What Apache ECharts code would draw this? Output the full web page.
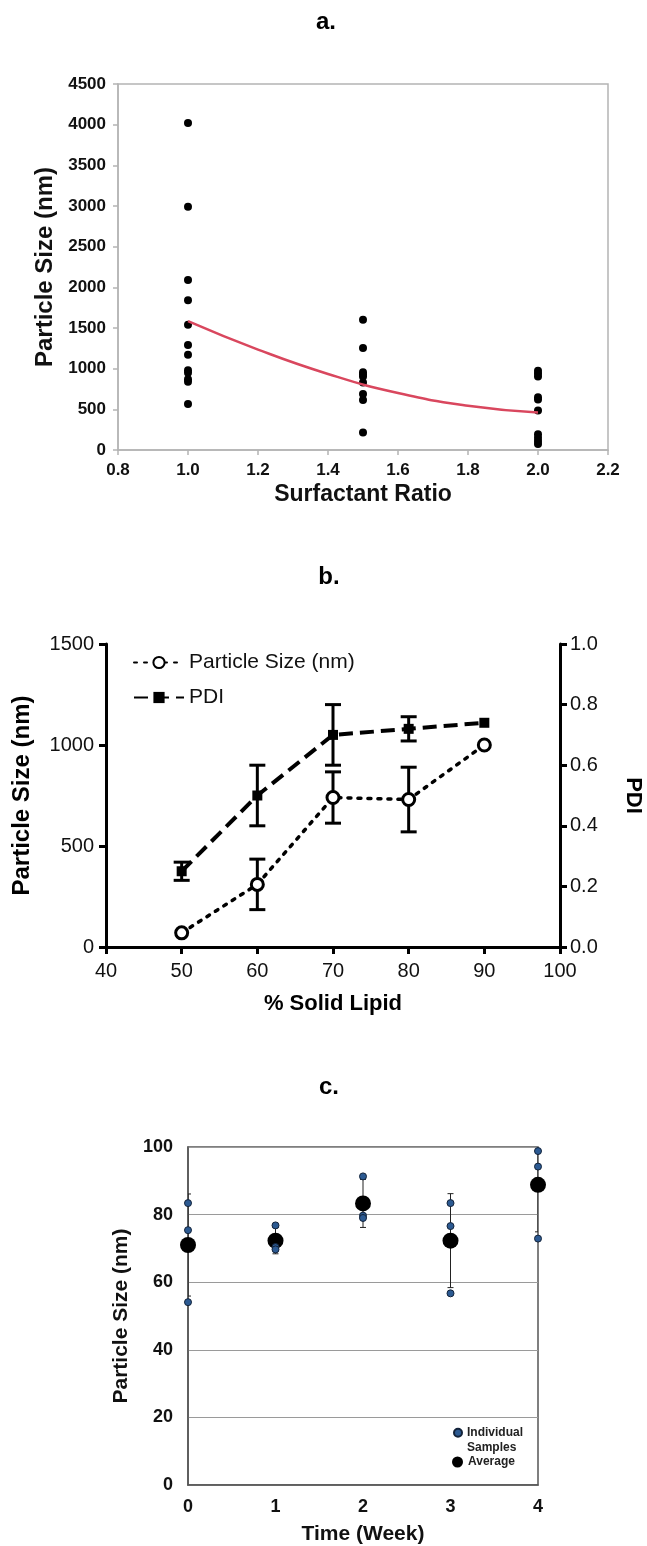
<!DOCTYPE html>
<html>
<head>
<meta charset="utf-8">
<script src="https://cdn.jsdelivr.net/npm/echarts@6/dist/echarts.min.js"></script>
<style>
html,body{margin:0;padding:0;background:#fff;}
#chart{width:647px;height:1546px;}
</style>
</head>
<body>
<div id="chart"></div>
<script>
// ---------- Panel a data ----------
const aRatio10 = 1.0, aRatio15 = 1.5, aRatio20 = 2.0;
const aSize10 = [4020, 2990, 2090, 1840, 1540, 1290, 1170, 980, 950, 870, 840, 565];
const aSize15 = [1600, 1255, 955, 930, 905, 830, 690, 615, 215];
const aSize20 = [975, 940, 905, 650, 620, 485, 195, 150, 110, 75];
const aFitX = [1.0, 1.2, 1.4, 1.6, 1.8, 2.0];
const aFitY = [1585, 1235, 935, 700, 545, 460];
const aXTicks = [0.8, 2.2, 0.2];

// ---------- Panel b data ----------
const bLipid = [50, 60, 70, 80, 90];
const bSize = [70, 310, 740, 730, 1000];
const bSizeSd = [0, 125, 127, 160, 0];
const bPdi = [0.25, 0.50, 0.70, 0.72, 0.74];
const bPdiSd = [0.03, 0.10, 0.10, 0.04, 0];

// ---------- Panel c data ----------
const cWeeks = [0, 1, 2, 3, 4];
const cSamples = [[83.4, 75.4, 54.1], [76.8, 70.4, 69.7], [91.3, 79.7, 79.0], [83.4, 76.6, 56.7], [98.8, 94.2, 72.9]];
const cAvg = [71.0, 72.3, 83.3, 72.3, 88.8];
const cSd = [15.1, 3.9, 7.1, 13.9, 13.9];

const FONT = 'Liberation Sans, Arial, sans-serif';
const plain = v => String(v);

function errRender(capHalf, lw, color) {
  return function (params, api) {
    const x = api.value(0), lo = api.value(1), hi = api.value(2);
    const p1 = api.coord([x, lo]), p2 = api.coord([x, hi]);
    const st = { stroke: color, lineWidth: lw };
    return {
      type: 'group',
      children: [
        { type: 'line', shape: { x1: p1[0], y1: p1[1], x2: p2[0], y2: p2[1] }, style: st },
        { type: 'line', shape: { x1: p1[0] - capHalf, y1: p1[1], x2: p1[0] + capHalf, y2: p1[1] }, style: st },
        { type: 'line', shape: { x1: p2[0] - capHalf, y1: p2[1], x2: p2[0] + capHalf, y2: p2[1] }, style: st }
      ]
    };
  };
}
function errData(xs, ys, sds) {
  const out = [];
  xs.forEach((x, i) => { if (sds[i] > 0) out.push([x, ys[i] - sds[i], ys[i] + sds[i]]); });
  return out;
}

const chart = echarts.init(document.getElementById('chart'), null, { renderer: 'canvas' });

const titleStyle = { fontFamily: FONT, fontWeight: 'bold', fontSize: 24, color: '#000' };

const option = {
  backgroundColor: '#fff',
  animation: false,
  title: [
    { text: 'a.', left: 326, top: 22, textAlign: 'center', textVerticalAlign: 'middle', textStyle: titleStyle, padding: 0 },
    { text: 'b.', left: 329, top: 577, textAlign: 'center', textVerticalAlign: 'middle', textStyle: titleStyle, padding: 0 },
    { text: 'c.', left: 329, top: 1087, textAlign: 'center', textVerticalAlign: 'middle', textStyle: titleStyle, padding: 0 }
  ],
  grid: [
    { left: 118, right: 39, top: 84, height: 366, show: true, borderColor: '#b4b4b4', borderWidth: 1.5, backgroundColor: 'transparent', outerBoundsMode: 'none', containLabel: false },
    { left: 106, right: 87, top: 644, height: 303, outerBoundsMode: 'none', containLabel: false },
    { left: 188, right: 109, top: 1147, height: 338, show: true, borderColor: '#555', borderWidth: 1.5, outerBoundsMode: 'none', containLabel: false }
  ],
  legend: [
    {
      data: ['Particle Size (nm)', 'PDI'],
      orient: 'vertical', left: 128, top: 647, itemWidth: 50, itemHeight: 14, itemGap: 14,
      textStyle: { fontFamily: FONT, fontSize: 21, color: '#111' }
    },
    {
      data: ['Individual Samples'],
      orient: 'vertical', left: 453, top: 1411, itemWidth: 8, itemHeight: 8, padding: 0,
      formatter: function (n) { return ' \nIndividual\nSamples'; },
      textStyle: { fontFamily: FONT, fontSize: 12, fontWeight: 'bold', color: '#222', lineHeight: 14.5 }
    },
    {
      data: ['Average'],
      orient: 'vertical', left: 452, top: 1456, itemWidth: 11, itemHeight: 11, padding: 0,
      textStyle: { fontFamily: FONT, fontSize: 12, fontWeight: 'bold', color: '#222' }
    }
  ],
  xAxis: [
    {
      gridIndex: 0, type: 'value', min: aXTicks[0], max: aXTicks[1], interval: aXTicks[2],
      name: 'Surfactant Ratio', nameLocation: 'middle', nameGap: 33,
      nameTextStyle: { fontFamily: FONT, fontWeight: 'bold', fontSize: 23, color: '#111' },
      axisLine: { lineStyle: { color: '#b4b4b4', width: 1.5 } },
      axisTick: { show: true, inside: false, length: 5, lineStyle: { color: '#b4b4b4', width: 1.5 } },
      axisLabel: { margin: 12, fontFamily: FONT, fontWeight: 'bold', fontSize: 17, color: '#111', formatter: v => v.toFixed(1) },
      splitLine: { show: false }
    },
    {
      gridIndex: 1, type: 'value', min: 40, max: 100, interval: 10,
      name: '% Solid Lipid', nameLocation: 'middle', nameGap: 46,
      nameTextStyle: { fontFamily: FONT, fontWeight: 'bold', fontSize: 22, color: '#000' },
      axisLine: { lineStyle: { color: '#000', width: 3 } },
      axisTick: { show: true, length: 7, lineStyle: { color: '#000', width: 3 } },
      axisLabel: { margin: 14, fontFamily: FONT, fontSize: 20, color: '#111', formatter: plain },
      splitLine: { show: false }
    },
    {
      gridIndex: 2, type: 'value', min: 0, max: 4, interval: 1,
      name: 'Time (Week)', nameLocation: 'middle', nameGap: 39,
      nameTextStyle: { fontFamily: FONT, fontWeight: 'bold', fontSize: 21, color: '#111' },
      axisLine: { lineStyle: { color: '#555', width: 1.5 } },
      axisTick: { show: false },
      axisLabel: { margin: 13, fontFamily: FONT, fontWeight: 'bold', fontSize: 18, color: '#111', formatter: plain },
      splitLine: { show: false }
    }
  ],
  yAxis: [
    {
      gridIndex: 0, type: 'value', min: 0, max: 4500, interval: 500,
      name: 'Particle Size (nm)', nameLocation: 'middle', nameGap: 61,
      nameTextStyle: { fontFamily: FONT, fontWeight: 'bold', fontSize: 24, color: '#111' },
      axisLine: { show: true, lineStyle: { color: '#b4b4b4', width: 1.5 } },
      axisTick: { show: true, length: 5, lineStyle: { color: '#b4b4b4', width: 1.5 } },
      axisLabel: { margin: 12, fontFamily: FONT, fontWeight: 'bold', fontSize: 17, color: '#111', formatter: plain },
      splitLine: { show: false }
    },
    {
      gridIndex: 1, type: 'value', min: 0, max: 1500, interval: 500, position: 'left',
      name: 'Particle Size (nm)', nameLocation: 'middle', nameGap: 72,
      nameTextStyle: { fontFamily: FONT, fontWeight: 'bold', fontSize: 24, color: '#000' },
      axisLine: { show: true, lineStyle: { color: '#000', width: 3 } },
      axisTick: { show: true, length: 7, lineStyle: { color: '#000', width: 3 } },
      axisLabel: { margin: 12, fontFamily: FONT, fontSize: 20, color: '#111', formatter: plain },
      splitLine: { show: false }
    },
    {
      gridIndex: 1, type: 'value', min: 0, max: 1, interval: 0.2, position: 'right',
      name: 'PDI', nameLocation: 'middle', nameGap: 62, nameRotate: -90,
      nameTextStyle: { fontFamily: FONT, fontWeight: 'bold', fontSize: 22, color: '#000' },
      axisLine: { show: true, lineStyle: { color: '#000', width: 3 } },
      axisTick: { show: true, length: 7, lineStyle: { color: '#000', width: 3 } },
      axisLabel: { margin: 10, fontFamily: FONT, fontSize: 20, color: '#111', formatter: v => v.toFixed(1) },
      splitLine: { show: false }
    },
    {
      gridIndex: 2, type: 'value', min: 0, max: 100, interval: 20,
      name: 'Particle Size (nm)', nameLocation: 'middle', nameGap: 52,
      nameTextStyle: { fontFamily: FONT, fontWeight: 'bold', fontSize: 21, color: '#111' },
      axisLine: { show: true, lineStyle: { color: '#555', width: 1.5 } },
      axisTick: { show: false },
      axisLabel: { margin: 15, fontFamily: FONT, fontWeight: 'bold', fontSize: 18, color: '#111', formatter: plain },
      splitLine: { show: true, lineStyle: { color: '#9a9a9a', width: 1 } }
    }
  ],
  series: [
    // Panel a
    {
      name: 'Samples a', type: 'scatter', xAxisIndex: 0, yAxisIndex: 0, symbolSize: 8,
      itemStyle: { color: '#000', opacity: 1 }, z: 3,
      data: [].concat(
        aSize10.map(v => [aRatio10, v]),
        aSize15.map(v => [aRatio15, v]),
        aSize20.map(v => [aRatio20, v]))
    },
    {
      name: 'Fit', type: 'line', xAxisIndex: 0, yAxisIndex: 0, smooth: true, showSymbol: false,
      lineStyle: { color: '#d9475e', width: 2.5 }, z: 4,
      data: aFitX.map((x, i) => [x, aFitY[i]])
    },
    // Panel b
    {
      name: 'size err', type: 'custom', xAxisIndex: 1, yAxisIndex: 1, z: 2,
      renderItem: errRender(8, 3, '#000'),
      data: errData(bLipid, bSize, bSizeSd)
    },
    {
      name: 'pdi err', type: 'custom', xAxisIndex: 1, yAxisIndex: 2, z: 2,
      renderItem: errRender(8, 3, '#000'),
      data: errData(bLipid, bPdi, bPdiSd)
    },
    {
      name: 'Particle Size (nm)', type: 'line', xAxisIndex: 1, yAxisIndex: 1, z: 5,
      symbol: 'circle', symbolSize: 12, showAllSymbol: true,
      lineStyle: { color: '#000', width: 3.5, type: [3, 7], cap: 'round' },
      itemStyle: { color: '#fff', borderColor: '#000', borderWidth: 3 },
      data: bLipid.map((x, i) => [x, bSize[i]])
    },
    {
      name: 'PDI', type: 'line', xAxisIndex: 1, yAxisIndex: 2, z: 5,
      symbol: 'rect', symbolSize: 10,
      lineStyle: { color: '#000', width: 4, type: [14, 7] },
      itemStyle: { color: '#000' },
      data: bLipid.map((x, i) => [x, bPdi[i]])
    },
    // Panel c
    {
      name: 'c err', type: 'custom', xAxisIndex: 2, yAxisIndex: 3, z: 2, clip: true,
      renderItem: errRender(3, 1, '#222'),
      data: errData(cWeeks, cAvg, cSd)
    },
    {
      name: 'Individual Samples', type: 'scatter', xAxisIndex: 2, yAxisIndex: 3, z: 4, symbolSize: 7,
      itemStyle: { color: '#2c5a92', borderColor: '#13233a', borderWidth: 1, opacity: 1 },
      data: [].concat.apply([], cSamples.map((arr, i) => arr.map(v => [cWeeks[i], v])))
    },
    {
      name: 'Average', type: 'scatter', xAxisIndex: 2, yAxisIndex: 3, z: 3, symbolSize: 16,
      itemStyle: { color: '#000', opacity: 1 },
      data: cWeeks.map((w, i) => [w, cAvg[i]])
    }
  ]
};
chart.setOption(option);
</script>
</body>
</html>
